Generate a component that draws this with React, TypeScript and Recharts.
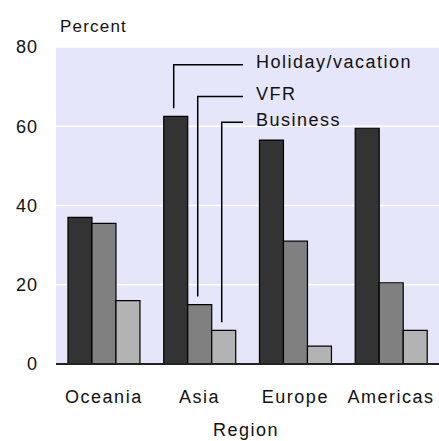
import { BarChart, Bar, XAxis, YAxis, CartesianGrid } from 'recharts';

const regions = ['Oceania', 'Asia', 'Europe', 'Americas'];
const holiday = [37, 62.5, 56.5, 59.5];
const vfr = [35.5, 15, 31, 20.5];
const business = [16, 8.5, 4.5, 8.5];
const yTicks = [0, 20, 40, 60, 80];

const seriesNames = ['Holiday/vacation', 'VFR', 'Business'];
const seriesKeys = ['holiday', 'vfr', 'business'];
const seriesColors = ['#333333', '#808080', '#b3b3b3'];

const data = regions.map((region, i) => ({
  region,
  holiday: holiday[i],
  vfr: vfr[i],
  business: business[i],
}));

// leader lines point at the Asia bars; levels are in axis units
const ANNOTATED = 1;
const LEADER_LEVELS = [75.5, 67.5, 61];
const LEADER_END_X = 243;
const LEADER_TEXT_X = 256;

const FONT = '"Liberation Sans", Arial, sans-serif';
const textStyle = { fontFamily: FONT, fontSize: 18, letterSpacing: 1.5, fill: '#111' };
const tickStyle = { ...textStyle, letterSpacing: 1 };

const makeLeader = (s: number) => (props: any) => {
  const { x, y, width, height, index, value } = props;
  if (index !== ANNOTATED) return null;
  const ppu = height / value;
  const lineY = y + height - LEADER_LEVELS[s] * ppu;
  const lx = x + width / 2 - 2;
  return (
    <g>
      <polyline
        points={`${lx},${y - 8} ${lx},${lineY} ${LEADER_END_X},${lineY}`}
        fill="none"
        stroke="#000"
        strokeWidth={1.5}
      />
      <text x={LEADER_TEXT_X} y={lineY - 3} dy="0.35em" style={textStyle}>
        {seriesNames[s]}
      </text>
    </g>
  );
};

export default function App() {
  return (
    <div style={{ position: 'absolute', left: 0, top: 0, background: '#fff' }}>
      <BarChart
        width={439}
        height={441}
        data={data}
        margin={{ top: 47, right: 0, left: 0, bottom: 0 }}
        barCategoryGap="12.5%"
        barGap={0}
      >
        <CartesianGrid
          vertical={false}
          fill="#e6e6fa"
          stroke="#ffffff"
          strokeWidth={1.5}
        />
        <XAxis
          dataKey="region"
          height={77}
          tickLine={false}
          tickSize={0}
          tickMargin={26}
          axisLine={{ stroke: '#222', strokeWidth: 2 }}
          tick={textStyle}
        />
        <YAxis
          width={56}
          domain={[0, 80]}
          ticks={yTicks}
          tickLine={false}
          tickSize={0}
          tickMargin={18}
          axisLine={false}
          tick={tickStyle}
        />
        {seriesKeys.map((key, s) => (
          <Bar
            key={key}
            dataKey={key}
            name={seriesNames[s]}
            fill={seriesColors[s]}
            stroke="#000"
            strokeWidth={1.2}
            isAnimationActive={false}
            label={makeLeader(s)}
          />
        ))}
        <text x={60} y={32} style={{ ...textStyle, fontSize: 17, letterSpacing: 1.2 }}>
          Percent
        </text>
        <text x={246} y={436} textAnchor="middle" style={textStyle}>
          Region
        </text>
      </BarChart>
    </div>
  );
}
